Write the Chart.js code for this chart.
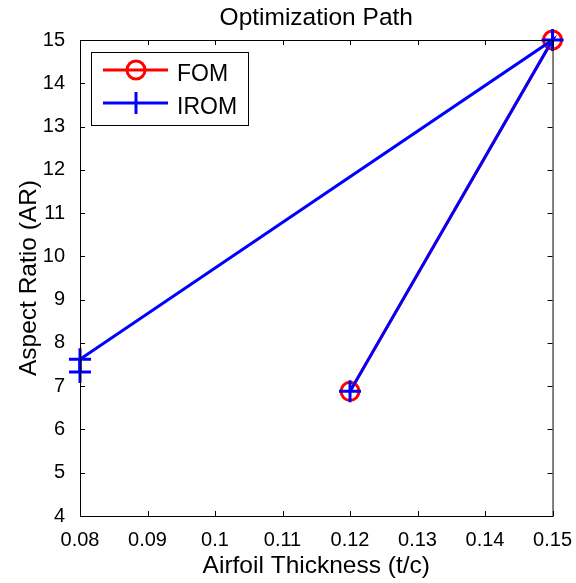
<!DOCTYPE html>
<html>
<head>
<meta charset="utf-8">
<script src="https://cdn.jsdelivr.net/npm/chart.js@4.4.0/dist/chart.umd.min.js"></script>
<style>
  html, body { margin: 0; padding: 0; background: #fff; }
</style>
</head>
<body>
<canvas id="pathChart" width="576" height="583"></canvas>
<script>
// values
const fomX = [0.12, 0.15];
const fomY = [6.88, 15];
const iromX = [0.12, 0.15, 0.08, 0.08];
const iromY = [6.88, 15, 7.62, 7.33];
const xTickValues = [0.08, 0.09, 0.10, 0.11, 0.12, 0.13, 0.14, 0.15];
const yTickValues = [4, 5, 6, 7, 8, 9, 10, 11, 12, 13, 14, 15];
const seriesNames = ['FOM', 'IROM'];

const FONT = 'Arial, "Liberation Sans", Helvetica, sans-serif';

function toPoints(xs, ys) {
    return xs.map(function (x, i) { return { x: x, y: ys[i] }; });
}

// MATLAB-like box, inward ticks, titles and legend
const matlabFrame = {
    id: 'matlabFrame',
    afterDatasetsDraw: function (chart) {
        const ctx = chart.ctx;
        const a = chart.chartArea;
        const xs = chart.scales.x;
        const ys = chart.scales.y;
        ctx.save();
        ctx.strokeStyle = '#000';
        ctx.lineWidth = 1;
        ctx.strokeRect(a.left + 0.5, a.top + 0.5, a.right - a.left, a.bottom - a.top);

        const len = 5;
        ctx.beginPath();
        xTickValues.forEach(function (v) {
            const px = Math.round(xs.getPixelForValue(v)) + 0.5;
            ctx.moveTo(px, a.bottom); ctx.lineTo(px, a.bottom - len);
            ctx.moveTo(px, a.top); ctx.lineTo(px, a.top + len);
        });
        yTickValues.forEach(function (v) {
            const py = Math.round(ys.getPixelForValue(v)) + 0.5;
            ctx.moveTo(a.left, py); ctx.lineTo(a.left + len, py);
            ctx.moveTo(a.right, py); ctx.lineTo(a.right - len, py);
        });
        ctx.stroke();

        // titles
        ctx.fillStyle = '#000';
        ctx.textAlign = 'center';
        ctx.textBaseline = 'alphabetic';
        const cx = (a.left + a.right) / 2;
        ctx.font = '24.5px ' + FONT;
        ctx.fillText('Optimization Path', cx, 25);
        ctx.fillText('Airfoil Thickness (t/c)', cx, 573);
        ctx.save();
        ctx.translate(36, (a.top + a.bottom) / 2);
        ctx.rotate(-Math.PI / 2);
        ctx.fillText('Aspect Ratio (AR)', 0, 0);
        ctx.restore();

        // legend
        ctx.fillStyle = '#fff';
        ctx.fillRect(91, 52, 157, 73);
        ctx.strokeRect(91.5, 52.5, 157, 73);
        ctx.lineWidth = 3;
        ctx.strokeStyle = '#ff0000';
        ctx.beginPath(); ctx.moveTo(103, 70); ctx.lineTo(168, 70); ctx.stroke();
        ctx.beginPath(); ctx.arc(136, 70, 9, 0, Math.PI * 2); ctx.stroke();
        ctx.strokeStyle = '#0000ff';
        ctx.beginPath(); ctx.moveTo(103, 103); ctx.lineTo(168, 103); ctx.stroke();
        ctx.beginPath(); ctx.moveTo(136, 92); ctx.lineTo(136, 114); ctx.stroke();
        ctx.fillStyle = '#000';
        ctx.textAlign = 'left';
        ctx.font = '23px ' + FONT;
        ctx.fillText(seriesNames[0], 177, 81);
        ctx.fillText(seriesNames[1], 177, 114);
        ctx.restore();
    }
};

new Chart(document.getElementById('pathChart'), {
    type: 'scatter',
    data: {
        datasets: [{
            label: seriesNames[0],
            data: toPoints(fomX, fomY),
            showLine: true,
            borderColor: '#ff0000',
            borderWidth: 3,
            pointStyle: 'circle',
            pointRadius: 9,
            pointBorderWidth: 3,
            pointBorderColor: '#ff0000',
            pointBackgroundColor: 'rgba(0,0,0,0)',
            clip: false,
            order: 2
        }, {
            label: seriesNames[1],
            data: toPoints(iromX, iromY),
            showLine: true,
            borderColor: '#0000ff',
            borderWidth: 3,
            pointStyle: 'cross',
            pointRadius: 11,
            pointBorderWidth: 3,
            pointBorderColor: '#0000ff',
            clip: false,
            order: 1
        }]
    },
    options: {
        responsive: false,
        animation: false,
        layout: { padding: { top: 40, right: 23, left: 0, bottom: 0 } },
        plugins: {
            legend: { display: false },
            title: { display: false },
            tooltip: { enabled: false }
        },
        scales: {
            x: {
                type: 'linear',
                min: 0.08,
                max: 0.15,
                afterFit: function (scale) { scale.height = 67; },
                afterBuildTicks: function (scale) {
                    scale.ticks = xTickValues.map(function (v) { return { value: v }; });
                },
                grid: { display: false },
                border: { display: false },
                ticks: {
                    padding: 4,
                    color: '#000',
                    font: { family: FONT, size: 20 },
                    maxRotation: 0,
                    autoSkip: false,
                    callback: function (v) { return String(Number(v.toFixed(2))); }
                }
            },
            y: {
                type: 'linear',
                min: 4,
                max: 15,
                afterFit: function (scale) { scale.width = 80; },
                afterBuildTicks: function (scale) {
                    scale.ticks = yTickValues.map(function (v) { return { value: v }; });
                },
                grid: { display: false },
                border: { display: false },
                ticks: {
                    padding: 7,
                    color: '#000',
                    font: { family: FONT, size: 20 },
                    autoSkip: false
                }
            }
        }
    },
    plugins: [matlabFrame]
});
</script>
</body>
</html>
